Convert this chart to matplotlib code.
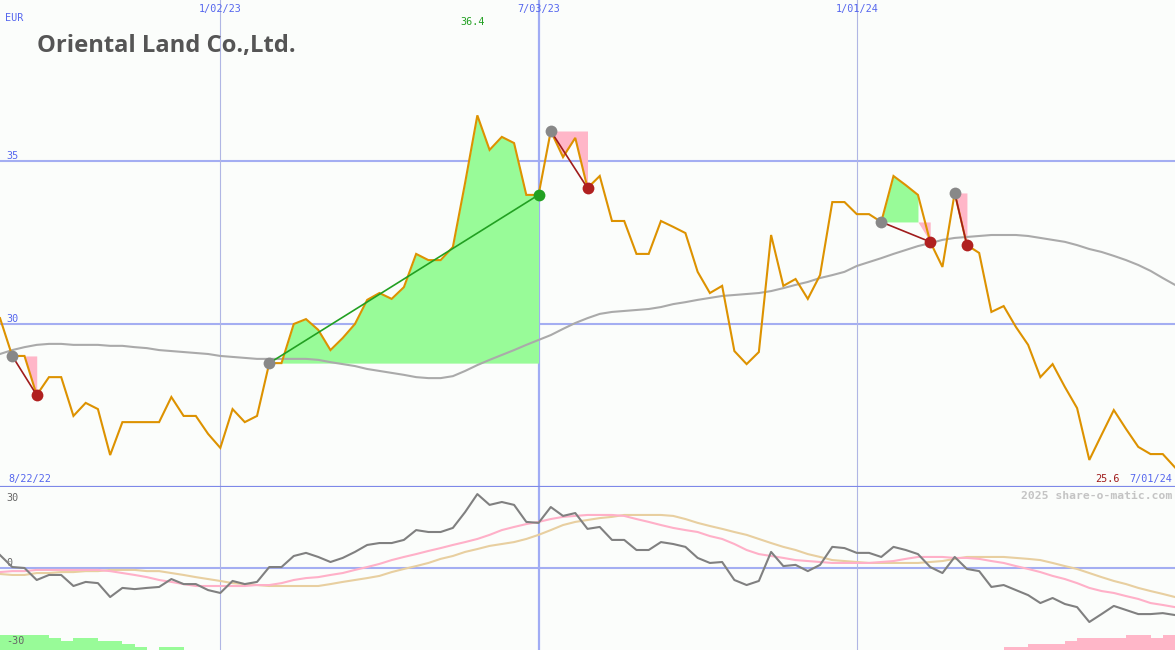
import numpy as np
import pandas as pd
import matplotlib
matplotlib.use("Agg")
import matplotlib.pyplot as plt
import matplotlib.transforms as mtrans

# ---------------- data ----------------
dates = pd.date_range("2022-08-29", periods=97, freq="7D")

price = [30.18, 29.02, 29.02, 27.82, 28.37, 28.37, 27.18, 27.58, 27.39, 25.98,
         26.99, 26.99, 26.99, 26.99, 27.76, 27.18, 27.18, 26.63, 26.20, 27.39,
         26.99, 27.18, 28.80, 28.80, 30.00, 30.15, 29.82, 29.20, 29.57, 30.00,
         30.74, 30.95, 30.77, 31.13, 32.15, 31.96, 31.96, 32.36, 34.33, 36.40,
         35.34, 35.74, 35.55, 33.96, 33.96, 35.92, 35.12, 35.71, 34.17, 34.54,
         33.16, 33.16, 32.15, 32.15, 33.16, 32.98, 32.79, 31.60, 30.95, 31.17,
         29.17, 28.77, 29.14, 32.73, 31.17, 31.38, 30.77, 31.50, 33.74, 33.74,
         33.37, 33.37, 33.13, 34.54, 34.26, 33.96, 32.52, 31.75, 34.02, 32.42,
         32.18, 30.37, 30.55, 29.91, 29.36, 28.37, 28.77, 28.07, 27.42, 25.83,
         26.60, 27.36, 26.78, 26.23, 26.01, 26.01, 25.60]

ma = [29.08, 29.20, 29.29, 29.36, 29.39, 29.39, 29.36, 29.36, 29.36, 29.33,
      29.33, 29.29, 29.26, 29.20, 29.17, 29.14, 29.11, 29.08, 29.02, 28.99,
      28.96, 28.93, 28.93, 28.93, 28.93, 28.93, 28.90, 28.83, 28.77, 28.71,
      28.62, 28.56, 28.50, 28.44, 28.37, 28.34, 28.34, 28.40, 28.56, 28.74,
      28.90, 29.05, 29.20, 29.36, 29.51, 29.66, 29.85, 30.03, 30.18, 30.31,
      30.37, 30.40, 30.43, 30.46, 30.52, 30.61, 30.67, 30.74, 30.80, 30.86,
      30.89, 30.92, 30.95, 31.01, 31.10, 31.20, 31.29, 31.41, 31.50, 31.60,
      31.78, 31.90, 32.02, 32.15, 32.27, 32.39, 32.48, 32.58, 32.64, 32.67,
      32.70, 32.73, 32.73, 32.73, 32.70, 32.64, 32.58, 32.52, 32.42, 32.30,
      32.21, 32.09, 31.96, 31.81, 31.63, 31.41, 31.20]

osc = [5.4, 0.4, 0.0, -5.0, -2.9, -2.9, -7.5, -5.8, -6.3, -12.1,
       -8.3, -8.8, -8.3, -7.9, -4.6, -6.7, -6.7, -9.2, -10.4, -5.4,
       -6.7, -5.8, 0.4, 0.4, 5.0, 6.3, 4.6, 2.5, 4.2, 6.7,
       9.6, 10.4, 10.4, 11.7, 15.8, 15.0, 15.0, 16.7, 23.3, 30.8,
       26.3, 27.5, 26.3, 19.2, 18.8, 25.4, 21.7, 22.9, 16.3, 17.1,
       11.7, 11.7, 7.5, 7.5, 10.8, 10.0, 8.8, 4.2, 2.1, 2.5,
       -5.0, -7.1, -5.4, 6.7, 0.8, 1.3, -1.3, 1.3, 8.8, 8.3,
       6.3, 6.3, 4.6, 8.8, 7.5, 5.8, 0.4, -2.1, 4.6, -0.4,
       -1.3, -7.9, -7.1, -9.2, -11.3, -14.6, -12.5, -15.0, -16.3, -22.5,
       -19.2, -15.8, -17.5, -19.2, -19.2, -18.8, -19.6]

osc_fast = [-1.7, -1.3, -1.3, -0.8, -0.8, -0.8, -0.8, -0.8, -0.8, -1.3,
            -2.1, -2.9, -3.8, -5.0, -5.8, -6.7, -7.5, -7.5, -7.5, -7.5,
            -7.5, -7.1, -7.1, -6.3, -5.0, -4.2, -3.8, -2.9, -2.1, -0.8,
            0.4, 1.7, 3.3, 4.6, 5.8, 7.1, 8.3, 9.6, 10.8, 12.1,
            13.8, 15.8, 17.1, 18.3, 19.2, 20.4, 21.3, 21.7, 22.1, 22.1,
            22.1, 21.7, 20.4, 19.2, 17.9, 16.7, 15.8, 15.0, 13.3, 12.1,
            10.0, 7.5, 5.8, 5.0, 4.2, 3.3, 2.9, 2.5, 2.1, 2.1,
            2.1, 2.1, 2.5, 2.9, 3.8, 4.6, 4.6, 4.6, 4.2, 4.2,
            3.8, 2.9, 2.1, 0.8, -0.4, -1.7, -3.3, -4.6, -6.3, -8.3,
            -9.6, -10.4, -11.7, -12.9, -14.6, -15.4, -16.3]

osc_slow = [-2.5, -2.9, -2.9, -2.1, -2.1, -1.7, -1.7, -1.3, -1.3, -0.8,
            -0.8, -0.8, -1.3, -1.3, -2.1, -2.9, -3.8, -4.6, -5.4, -6.3,
            -6.7, -7.1, -7.5, -7.5, -7.5, -7.5, -7.5, -6.7, -5.8, -5.0,
            -4.2, -3.3, -1.7, -0.4, 0.8, 2.1, 3.8, 5.0, 6.7, 7.9,
            9.2, 10.0, 10.8, 12.1, 13.8, 15.8, 17.9, 19.2, 20.0, 20.8,
            21.3, 22.1, 22.1, 22.1, 22.1, 21.7, 20.4, 18.8, 17.5, 16.3,
            15.0, 13.8, 12.1, 10.4, 8.8, 7.5, 5.8, 4.6, 3.3, 2.9,
            2.5, 2.1, 2.1, 2.1, 2.1, 2.1, 2.5, 2.9, 3.8, 4.6,
            4.6, 4.6, 4.6, 4.2, 3.8, 3.3, 2.1, 0.8, -0.4, -2.1,
            -3.8, -5.4, -6.7, -8.3, -9.6, -10.8, -12.1]

hist = ([6.2, 6.2, 6.2, 6.2, 5.0, 3.8, 5.0, 5.0, 3.8, 3.8, 2.5, 1.2, 0.0, 1.2, 1.2]
        + [0.0] * 67
        + [-1.2, -1.2, -2.5, -2.5, -2.5, -3.8, -5.0, -5.0, -5.0, -5.0, -6.2, -6.2, -5.0, -6.2, 0.0])

entry_dates = ["2022-09-05", "2023-01-30", "2023-07-10", "2024-01-15", "2024-02-26"]
exit_dates = ["2022-09-19", "2023-07-03", "2023-07-31", "2024-02-12", "2024-03-04"]

tick_dates = ["2023-01-02", "2023-07-03", "2024-01-01"]
tick_labels = ["1/02/23", "7/03/23", "1/01/24"]
start_label = "8/22/22"
end_label = "7/01/24"
price_levels = [35, 30]
osc_levels = [30, 0, -30]
currency = "EUR"
title = "Oriental Land Co.,Ltd."

# ---------------- style ----------------
BG = "#fbfdfb"
BLUE_TXT = "#5566ee"
GRID = "#a4aef2"
SEP = "#7d88e8"
ORANGE = "#dd9200"
GREEN_FILL = "#98fb98"
PINK_FILL = "#ffb6c8"
MONO = "DejaVu Sans Mono"

price = np.array(price)
ma = np.array(ma)
W, H = 1175, 650
MAIN_H = 487

fig = plt.figure(figsize=(W / 100, H / 100), dpi=100, facecolor=BG)
ax = fig.add_axes([0, (H - MAIN_H) / H, 1, MAIN_H / H])
ax2 = fig.add_axes([0, 0, 1, (H - MAIN_H) / H])
for a in (ax, ax2):
    a.set_facecolor(BG)
    for s in a.spines.values():
        s.set_visible(False)
    a.set_xticks([])
    a.set_yticks([])
    a.set_xlim(dates[0], dates[-1])

ax.set_ylim(25, 25 + MAIN_H / 32.6)
ax2.set_ylim(-82 / 2.4, 81 / 2.4)

# grid
for lv in price_levels:
    ax.axhline(lv, color=GRID, lw=1.5, zorder=1)
ax.axhline(25, color=SEP, lw=2.3, zorder=6, clip_on=False)
ax2.axhline(0, color=GRID, lw=1.5, zorder=1)
for d in tick_dates:
    dd = pd.Timestamp(d)
    thick = dd == pd.Timestamp("2023-07-03")
    for a in (ax, ax2):
        a.axvline(dd, color="#a0acf4" if thick else "#b0b6e4",
                  lw=1.6 if thick else 0.8, zorder=1)

# trade fills: contiguous runs of segments coloured by the segment's end price
loc = {d: i for i, d in enumerate(dates)}
for ed, xd in zip(entry_dates, exit_dates):
    i0 = loc[pd.Timestamp(ed)]
    i1 = loc[pd.Timestamp(xd)]
    lvl = price[i0]
    up = [price[i + 1] >= lvl for i in range(i0, i1)]
    s = 0
    while s < len(up):
        e = s
        while e + 1 < len(up) and up[e + 1] == up[s]:
            e += 1
        a, b = i0 + s, i0 + e + 1
        seg = price[a:b + 1]
        if up[s]:
            ax.fill_between(dates[a:b + 1], lvl, np.maximum(seg, lvl),
                            color=GREEN_FILL, lw=0, zorder=2)
        else:
            ax.fill_between(dates[a:b + 1], lvl, np.minimum(seg, lvl),
                            color=PINK_FILL, lw=0, zorder=2)
        s = e + 1

ax.plot(dates, ma, color="#aaaaaa", lw=1.5, zorder=3)
ax.plot(dates, price, color=ORANGE, lw=1.5, zorder=4, solid_joinstyle="miter")

for ed, xd in zip(entry_dates, exit_dates):
    i0 = loc[pd.Timestamp(ed)]
    i1 = loc[pd.Timestamp(xd)]
    win = price[i1] >= price[i0]
    lc = "#22a022" if win else "#a01c1c"
    ax.plot([dates[i0], dates[i1]], [price[i0], price[i1]], color=lc, lw=1.2, zorder=5)
    ax.plot(dates[i0], price[i0], "o", ms=8.5, color="#888888", mec="none", zorder=5)
    ax.plot(dates[i1], price[i1], "o", ms=8.5,
            color="#22a022" if win else "#b02020", mec="none", zorder=5)

# lower panel
ax2.plot(dates, osc_slow, color="#e8cfa0", lw=1.5, zorder=3)
ax2.plot(dates, osc_fast, color="#ffb0c8", lw=1.5, zorder=3)
ax2.plot(dates, osc, color="#808080", lw=1.5, zorder=4)
hist = np.array(hist)
bottom = ax2.get_ylim()[0]
ax2.bar(dates, np.abs(hist), width=7, align="edge", bottom=bottom,
        color=[GREEN_FILL if h > 0 else PINK_FILL for h in hist], lw=0, zorder=2)

# ---------------- texts ----------------
def px(a, x, y, h):
    return mtrans.blended_transform_factory(a.transAxes, a.transAxes), x / W, 1 - y / h

fs = 7.3
t, x, y = px(ax, 5, 18, MAIN_H)
ax.text(x, y, currency, transform=t, ha="left", va="center", fontsize=fs, color=BLUE_TXT, family=MONO)
tb = mtrans.blended_transform_factory(ax.transData, ax.transAxes)
for d, lab in zip(tick_dates, tick_labels):
    ax.text(pd.Timestamp(d), 1 - 9 / MAIN_H, lab, transform=tb, ha="center", va="center",
            fontsize=fs, color=BLUE_TXT, family=MONO)
imax = int(np.argmax(price))
shift = mtrans.ScaledTranslation(-5 / 100, 0, fig.dpi_scale_trans)
ax.text(dates[imax], 1 - 22 / MAIN_H, f"{price[imax]:.1f}", transform=tb + shift, ha="center",
        va="center", fontsize=fs, color="#22a022", family=MONO)
ty = mtrans.blended_transform_factory(ax.transAxes, ax.transData)
for lv in price_levels:
    ax.text(6 / W, lv + 5 / 32.6, str(lv), transform=ty, ha="left", va="center",
            fontsize=fs, color=BLUE_TXT, family=MONO)
t, x, y = px(ax, 8, 479, MAIN_H)
ax.text(x, y, start_label, transform=t, ha="left", va="center", fontsize=fs, color=BLUE_TXT, family=MONO)
t, x, y = px(ax, 1172, 479, MAIN_H)
ax.text(x, y, end_label, transform=t, ha="right", va="center", fontsize=fs, color=BLUE_TXT, family=MONO)
t, x, y = px(ax, 1120, 479, MAIN_H)
ax.text(x, y, f"{price[-1]:.1f}", transform=t, ha="right", va="center", fontsize=fs, color="#a01c1c", family=MONO)

t, x, y = px(ax, 37, 46, MAIN_H)
ttl = ax.text(x, y, title, transform=t, ha="left", va="center", fontsize=17, fontweight="bold",
              color="#555555", family="Open Sans")
fig.canvas.draw()
wpx = ttl.get_window_extent().width
ttl.set_fontsize(17 * 259 / wpx)

LOW_H = H - MAIN_H
ty2 = mtrans.blended_transform_factory(ax2.transAxes, ax2.transData)
for lv, off in zip(osc_levels, [-1.0, 2.0, -0.5]):
    ax2.text(6 / W, lv + off, str(lv), transform=ty2,
             ha="left", va="center", fontsize=fs, color="#666666", family=MONO)
t, x, y = px(ax2, 1172, 9, LOW_H)
ax2.text(x, y, "2025 share-o-matic.com", transform=t, ha="right", va="center", fontsize=8.2,
         fontweight="bold", color="#c4c4c4", family=MONO)

fig.savefig("out.png", dpi=100, facecolor=BG)
